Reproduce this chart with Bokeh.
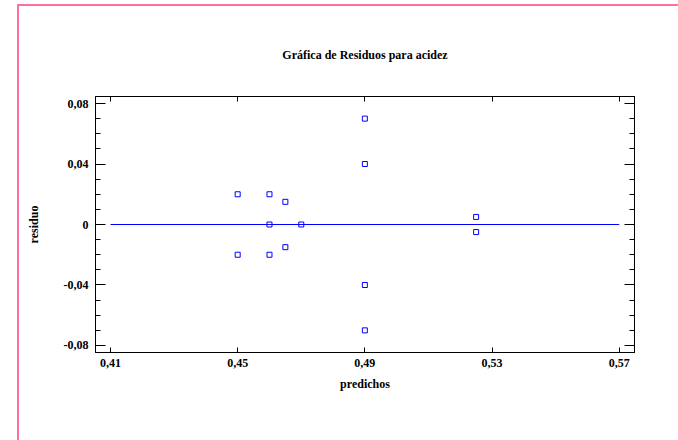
from bokeh.plotting import figure
from bokeh.models import (LinearAxis, FixedTicker, Range1d, CustomJSTickFormatter,
                          CustomLabelingPolicy, InlineStyleSheet)
from bokeh.embed import file_html
from bokeh.resources import INLINE

# data
predichos = [0.45, 0.45, 0.46, 0.46, 0.46, 0.465, 0.465, 0.47, 0.49, 0.49, 0.49, 0.49, 0.525, 0.525]
residuos = [0.02, -0.02, 0.02, 0.0, -0.02, 0.015, -0.015, 0.0, 0.07, 0.04, -0.04, -0.07, 0.005, -0.005]
fit_x = [0.41, 0.57]
fit_y = [0.0, 0.0]
x_ticks = [0.41, 0.45, 0.49, 0.53, 0.57]
y_ticks = [-0.08, -0.04, 0.0, 0.04, 0.08]
y_minor = [-0.08, -0.07, -0.06, -0.05, -0.04, -0.03, -0.02, -0.01, 0.0,
           0.01, 0.02, 0.03, 0.04, 0.05, 0.06, 0.07, 0.08]

FONT = "Liberation Serif"
BLUE = "#0000ff"
PINK = "#ff6fa0"

p = figure(width=678, height=440, output_backend="svg", toolbar_location=None,
           x_range=Range1d(0.40528, 0.57481), y_range=Range1d(-0.08463, 0.08463),
           min_border_left=95, min_border_right=44, min_border_top=96, min_border_bottom=88,
           x_axis_location=None, y_axis_location=None,
           title="Gráfica de Residuos para acidez")
p.background_fill_color = "white"
p.border_fill_color = "white"
p.outline_line_color = "black"
p.xgrid.visible = False
p.ygrid.visible = False

p.title.align = "center"
p.title.text_font = FONT
p.title.text_font_style = "bold"
p.title.text_font_size = "12px"
p.title.text_color = "black"
p.title.standoff = 48

fmt = CustomJSTickFormatter(code="""
if (Math.abs(tick) < 1e-9) { return "0"; }
return tick.toFixed(2).replace('.', ',');
""")

no_labels = CustomLabelingPolicy(code="""
for (const i of Array.from(indices)) {
    if (typeof indices.unset === 'function') { indices.unset(i) } else { indices.set(i, false) }
}
return indices
""")

def style(ax, labels=True):
    ax.axis_line_color = "black"
    ax.axis_line_width = 1
    ax.major_tick_line_color = "black"
    ax.minor_tick_line_color = "black"
    ax.major_tick_out = 0
    ax.minor_tick_out = 0
    ax.formatter = fmt
    ax.major_label_text_font = FONT
    ax.major_label_text_font_style = "bold"
    ax.major_label_text_font_size = "12px"
    ax.major_label_text_color = "black"
    ax.axis_label_text_font = FONT
    ax.axis_label_text_font_style = "bold"
    ax.axis_label_text_font_size = "12px"
    ax.axis_label_text_color = "black"
    if not labels:
        ax.major_label_policy = no_labels
        ax.major_label_standoff = 0

# x axes
for loc, labels in (("below", True), ("above", False)):
    ax = LinearAxis(ticker=FixedTicker(ticks=x_ticks))
    style(ax, labels)
    ax.major_tick_in = 5
    ax.minor_tick_in = 0
    if labels:
        ax.axis_label = "predichos"
        ax.major_label_standoff = 6
        ax.axis_label_standoff = 7
    p.add_layout(ax, loc)

# y axes
for loc, labels in (("left", True), ("right", False)):
    ax = LinearAxis(ticker=FixedTicker(ticks=y_ticks, minor_ticks=y_minor))
    style(ax, labels)
    ax.major_tick_in = 10
    ax.minor_tick_in = 5
    if labels:
        ax.axis_label = "residuo"
        ax.major_label_standoff = 7
        ax.axis_label_standoff = 20
    p.add_layout(ax, loc)

p.line(fit_x, fit_y, line_color=BLUE, line_width=1)
p.scatter(predichos, residuos, marker="square", size=5, fill_color=None,
          line_color=BLUE, line_width=1)

# pink page frame (top and left edges visible in the reference)
p.stylesheets = [InlineStyleSheet(css=f"""
:host {{ position: relative; }}
:host::after {{
  content: "";
  position: absolute;
  left: 17px; top: 4px; right: 0px; bottom: 0px;
  border-left: 2px solid {PINK};
  border-top: 2px solid {PINK};
  pointer-events: none;
  z-index: 10;
}}
""")]

open("out.html", "w").write(file_html(p, INLINE))
